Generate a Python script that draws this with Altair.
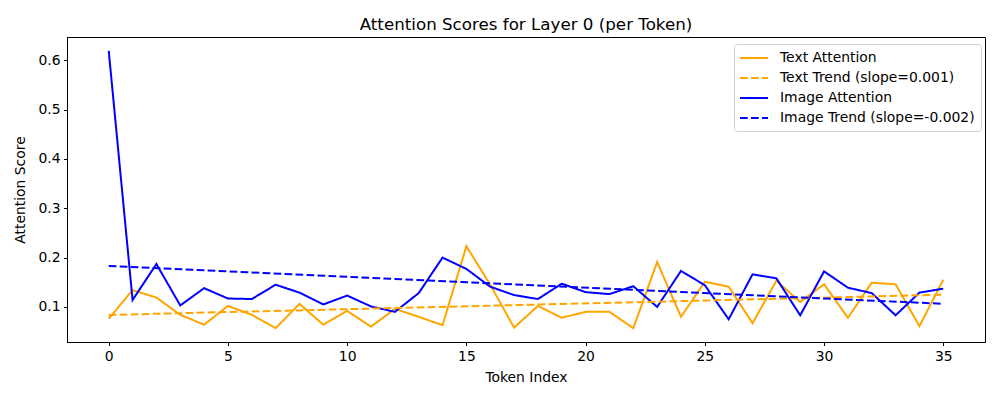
import altair as alt
import pandas as pd

tokens = list(range(36))
text_attention = [0.076, 0.134, 0.119, 0.084, 0.064, 0.102, 0.084, 0.057, 0.106, 0.064,
                  0.092, 0.060, 0.096, 0.080, 0.063, 0.223, 0.145, 0.058, 0.102, 0.078,
                  0.090, 0.090, 0.057, 0.191, 0.080, 0.151, 0.141, 0.067, 0.153, 0.110,
                  0.146, 0.078, 0.149, 0.146, 0.061, 0.155]
image_attention = [0.619, 0.114, 0.187, 0.103, 0.138, 0.117, 0.116, 0.145, 0.129, 0.105,
                   0.123, 0.101, 0.090, 0.128, 0.200, 0.177, 0.141, 0.124, 0.116, 0.147,
                   0.130, 0.126, 0.142, 0.100, 0.173, 0.144, 0.075, 0.166, 0.158, 0.083,
                   0.172, 0.139, 0.128, 0.083, 0.129, 0.137]

series_names = ["Text Attention", "Text Trend (slope=0.001)",
                "Image Attention", "Image Trend (slope=-0.002)"]
series_colors = ["orange", "orange", "blue", "blue"]
series_dashes = [[1, 0], [7.7, 3.3], [1, 0], [7.7, 3.3]]

x_ticks = [0, 5, 10, 15, 20, 25, 30, 35]
y_ticks = [0.1, 0.2, 0.3, 0.4, 0.5, 0.6]

df = pd.DataFrame({
    "token": tokens * 2,
    "score": text_attention + image_attention,
    "kind": ["Text"] * 36 + ["Image"] * 36,
})
df["series"] = df["kind"].map({"Text": series_names[0], "Image": series_names[2]})

ymin = min(text_attention + image_attention)
ymax = max(text_attention + image_attention)
ypad = (ymax - ymin) * 0.05

x_scale = alt.Scale(domain=[-1.75, 36.75], nice=False, zero=False)
y_scale = alt.Scale(domain=[ymin - ypad, ymax + ypad], nice=False, zero=False)

color_enc = alt.Color("series:N", scale=alt.Scale(domain=series_names, range=series_colors),
                      title=None, sort=series_names)
dash_enc = alt.StrokeDash("series:N", scale=alt.Scale(domain=series_names, range=series_dashes),
                          title=None, sort=series_names)

x_enc = alt.X("token:Q", scale=x_scale, title="Token Index",
              axis=alt.Axis(values=x_ticks, format="d"))
y_enc = alt.Y("score:Q", scale=y_scale, title="Attention Score",
              axis=alt.Axis(values=y_ticks, format=".1f"))

base = alt.Chart(df)

lines = base.mark_line(strokeWidth=2, clip=True).encode(
    x=x_enc, y=y_enc, color=color_enc, strokeDash=dash_enc, detail="kind:N"
)

trends = base.transform_regression(
    "token", "score", groupby=["kind"]
).transform_calculate(
    series=f"datum.kind == 'Text' ? '{series_names[1]}' : '{series_names[3]}'"
).mark_line(strokeWidth=2, clip=True).encode(
    x=x_enc, y=y_enc, color=color_enc, strokeDash=dash_enc, detail="kind:N"
)

chart = alt.layer(lines, trends).properties(
    width=918,
    height=305,
    title=alt.TitleParams("Attention Scores for Layer 0 (per Token)", fontSize=16.7,
                          font="DejaVu Sans", fontWeight="normal", color="black",
                          anchor="middle", offset=3),
    autosize=alt.AutoSizeParams(type="none"),
    padding={"left": 59, "top": 29, "right": 7, "bottom": 50},
).configure_view(
    stroke="black", strokeWidth=1
).configure_axis(
    grid=False, domain=True, domainColor="black", domainWidth=1,
    tickColor="black", tickSize=3.5, tickWidth=1,
    labelFont="DejaVu Sans", labelFontSize=13.9, labelColor="black", labelPadding=3.5,
    titleFont="DejaVu Sans", titleFontSize=13.9, titleColor="black", titleFontWeight="normal",
).configure_axisX(titlePadding=8, labelFlush=False).configure_axisY(titlePadding=10, labelFlush=False
).configure_legend(
    orient="none", legendX=667, legendY=7,
    strokeColor="#d0d0d0", fillColor="white", cornerRadius=3, padding=6,
    labelFont="DejaVu Sans", labelFontSize=13.9, labelColor="black",
    symbolType="M-2,0H2", symbolSize=196, symbolStrokeWidth=2, symbolOffset=6,
    rowPadding=5, labelOffset=18, labelLimit=400,
)

chart.save("out.html", embed_options={"renderer": "svg", "actions": False})
